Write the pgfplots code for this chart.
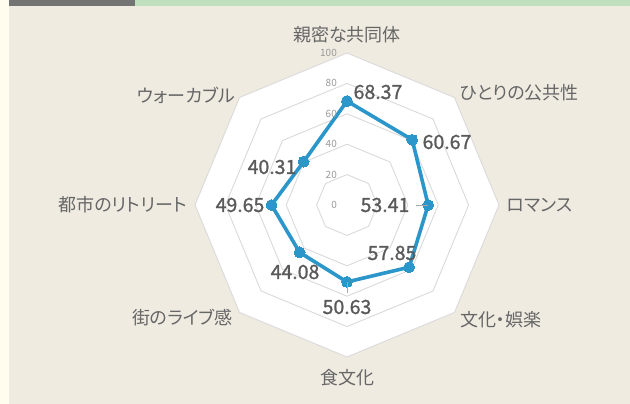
\documentclass[border=0pt]{standalone}
\usepackage{fontspec}
\setmainfont{Noto Sans CJK JP}
\newfontfamily\labfont[AutoFakeBold=1.2]{Noto Sans CJK JP}
\newfontfamily\catfont[RawFeature=+palt]{Noto Sans CJK JP}
\usepackage{pgfplots}
\pgfplotsset{compat=1.18}
\usepgfplotslibrary{polar}
\definecolor{bgcream}{HTML}{EFEBE1}
\definecolor{leftstrip}{HTML}{FFFDEE}
\definecolor{topgray}{HTML}{737373}
\definecolor{topgreen}{HTML}{BFDFBD}
\definecolor{gridgray}{HTML}{DADADA}
\definecolor{lineblue}{HTML}{2B96C9}
\definecolor{labgray}{HTML}{5A5A5A}
\definecolor{catgray}{HTML}{666666}
\definecolor{tickgray}{HTML}{999999}
\begin{document}
\begin{tikzpicture}[x=1pt,y=1pt]
% background
\fill[bgcream] (0,0) rectangle (630,404);
\fill[leftstrip] (0,0) rectangle (8.5,404);
\fill[topgray] (8.5,398) rectangle (135,404);
\fill[topgreen] (135,398) rectangle (630,404);
\begin{axis}[at={(347pt,199pt)}, anchor=center, x=1.52pt, y=1.52pt,
  xmin=-100, xmax=100, ymin=-100, ymax=100, hide axis, clip=false]
% grid octagons
\addplot[draw=gridgray, fill=white, line width=0.9pt, data cs=polar] coordinates {(90,100) (45,100) (0,100) (-45,100) (-90,100) (-135,100) (180,100) (135,100) (90,100)} -- cycle;
\addplot[draw=gridgray, line width=0.9pt, data cs=polar] coordinates {(90,80) (45,80) (0,80) (-45,80) (-90,80) (-135,80) (180,80) (135,80) (90,80)};
\addplot[draw=gridgray, line width=0.9pt, data cs=polar] coordinates {(90,60) (45,60) (0,60) (-45,60) (-90,60) (-135,60) (180,60) (135,60) (90,60)};
\addplot[draw=gridgray, line width=0.9pt, data cs=polar] coordinates {(90,40) (45,40) (0,40) (-45,40) (-90,40) (-135,40) (180,40) (135,40) (90,40)};
\addplot[draw=gridgray, line width=0.9pt, data cs=polar] coordinates {(90,20) (45,20) (0,20) (-45,20) (-90,20) (-135,20) (180,20) (135,20) (90,20)};
% data
\addplot[draw=lineblue, line width=3.6pt, line join=round, mark=*, mark size=5.4pt, mark options={fill=lineblue, draw=lineblue, line width=0pt}, data cs=polar] coordinates {(90,68.37) (45,60.67) (0,53.41) (-45,57.85) (-90,50.63) (-135,44.08) (180,49.65) (135,40.31) (90,68.37)};
\end{axis}
% leader lines
\draw[gray!70, line width=0.8pt] (416,199) -- (428,199);
\draw[gray!70, line width=0.8pt] (347,122) -- (347,111);
% tick labels
\foreach \v/\yy in {0/199,20/229.4,40/259.8,60/290.2,80/320.6,100/351}{
  \node[anchor=east, inner sep=0pt, font=\fontsize{10}{10}\selectfont, text=tickgray] at (337,\yy) {\v};
}
% data labels
\begin{scope}[every node/.style={inner sep=0pt, font=\labfont\bfseries\fontsize{19.5}{19.5}\selectfont, text=labgray}]
\node at (378,312) {68.37};
\node at (447,262) {60.67};
\node at (385,199) {53.41};
\node at (392,151) {57.85};
\node at (347,97) {50.63};
\node at (295,132) {44.08};
\node at (240,199) {49.65};
\node at (272,237) {40.31};
\end{scope}
% category labels
\begin{scope}[every node/.style={inner sep=0pt, font=\catfont\fontsize{18}{18}\selectfont, text=catgray}]
\node at (347,369) {親密な共同体};
\node[anchor=west] at (460,311) {ひとりの公共性};
\node[anchor=west] at (507,199) {ロマンス};
\node[anchor=west] at (460,84) {文化・娯楽};
\node at (347,26) {食文化};
\node[anchor=east] at (233,86) {街のライブ感};
\node[anchor=east] at (187,199) {都市のリトリート};
\node[anchor=east] at (235,309) {ウォーカブル};
\end{scope}
\end{tikzpicture}
\end{document}
